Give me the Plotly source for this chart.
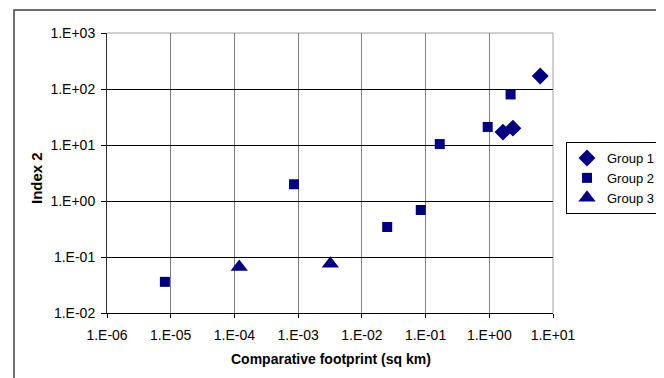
import plotly.graph_objects as go

# ---- data ----
group_names = ["Group 1", "Group 2", "Group 3"]

g1_x = [6.3, 1.64, 2.35]
g1_y = [171, 17.0, 20.0]

g2_x = [8.1e-6, 8.6e-4, 0.025, 0.084, 0.167, 0.944, 2.16]
g2_y = [0.036, 1.99, 0.343, 0.69, 10.4, 21.0, 80.0]

g3_x = [1.19e-4, 3.2e-3]
g3_y = [0.066, 0.076]

x_tickvals = [1e-6, 1e-5, 1e-4, 1e-3, 1e-2, 1e-1, 1e0, 1e1]
x_ticktext = ["1.E-06", "1.E-05", "1.E-04", "1.E-03", "1.E-02", "1.E-01", "1.E+00", "1.E+01"]
y_tickvals = [1e-2, 1e-1, 1e0, 1e1, 1e2, 1e3]
y_ticktext = ["1.E-02", "1.E-01", "1.E+00", "1.E+01", "1.E+02", "1.E+03"]

x_title = "Comparative footprint (sq km)"
y_title = "Index 2"

navy = "#000080"
font_family = "Liberation Sans, Arial, sans-serif"

fig = go.Figure()
fig.add_trace(go.Scatter(x=g1_x, y=g1_y, mode="markers", name=group_names[0],
                         marker=dict(symbol="diamond", size=13, color=navy)))
fig.add_trace(go.Scatter(x=g2_x, y=g2_y, mode="markers", name=group_names[1],
                         marker=dict(symbol="square", size=10, color=navy)))
fig.add_trace(go.Scatter(x=g3_x, y=g3_y, mode="markers", name=group_names[2],
                         marker=dict(symbol="triangle-up", size=15, color=navy)))

# the page body adds an 8px offset; the figure is sized to fill the window
OFF = 8
W, H = 664 - OFF, 378 - OFF
L, T = 107 - OFF, 33 - OFF
pw, ph = 446, 280
R, B = W - L - pw, H - T - ph

def px(sx):  # screen x -> paper x
    return (sx - 107) / pw

def py(sy):  # screen y -> paper y
    return (313 - sy) / ph

fig.update_layout(
    width=W, height=H,
    margin=dict(l=L, r=R, t=T, b=B, pad=0, autoexpand=False),
    paper_bgcolor="white", plot_bgcolor="white",
    font=dict(family=font_family, size=13, color="black"),
    showlegend=True,
    legend=dict(x=px(566), y=py(142), xanchor="left", yanchor="top",
                bordercolor="black", borderwidth=1, bgcolor="white",
                font=dict(size=13, color="black"), itemwidth=30, tracegroupgap=0),
    xaxis=dict(type="log", range=[-6, 1], tickvals=x_tickvals, ticktext=x_ticktext,
               showgrid=True, gridcolor="#808080", gridwidth=1,
               showline=True, linecolor="black", linewidth=1,
               ticks="outside", ticklen=4, tickcolor="black",
               ticklabelstandoff=5, zeroline=False, automargin=False,
               tickfont=dict(size=14)),
    yaxis=dict(type="log", range=[-2, 3], tickvals=y_tickvals, ticktext=y_ticktext,
               showgrid=True, gridcolor="black", gridwidth=1,
               showline=True, linecolor="#303030", linewidth=1,
               ticks="outside", ticklen=5, tickcolor="black",
               ticklabelstandoff=3, zeroline=False, automargin=False,
               tickfont=dict(size=14)),
    annotations=[
        dict(text="<b>" + x_title + "</b>", xref="paper", yref="paper",
             x=px(331), y=py(359), xanchor="center", yanchor="middle",
             showarrow=False, font=dict(size=14, color="black")),
        dict(text="<b>" + y_title + "</b>", xref="paper", yref="paper",
             x=px(37), y=py(178), xanchor="center", yanchor="middle",
             textangle=-90, showarrow=False, font=dict(size=15, color="black")),
    ],
    shapes=[
        # plot area top and right border (grey)
        dict(type="line", xref="paper", yref="paper", x0=0, x1=1, y0=1, y1=1,
             line=dict(color="#A0A0A0", width=1), layer="between"),
        dict(type="line", xref="paper", yref="paper", x0=1, x1=1, y0=0, y1=1,
             line=dict(color="#A0A0A0", width=1), layer="between"),
        # outer chart frame
        dict(type="rect", xref="paper", yref="paper",
             x0=px(14), x1=px(662.5), y0=py(400), y1=py(10),
             line=dict(color="#404040", width=1.5), fillcolor="rgba(0,0,0,0)", layer="below"),
    ],
)

fig.write_html("out.html")
